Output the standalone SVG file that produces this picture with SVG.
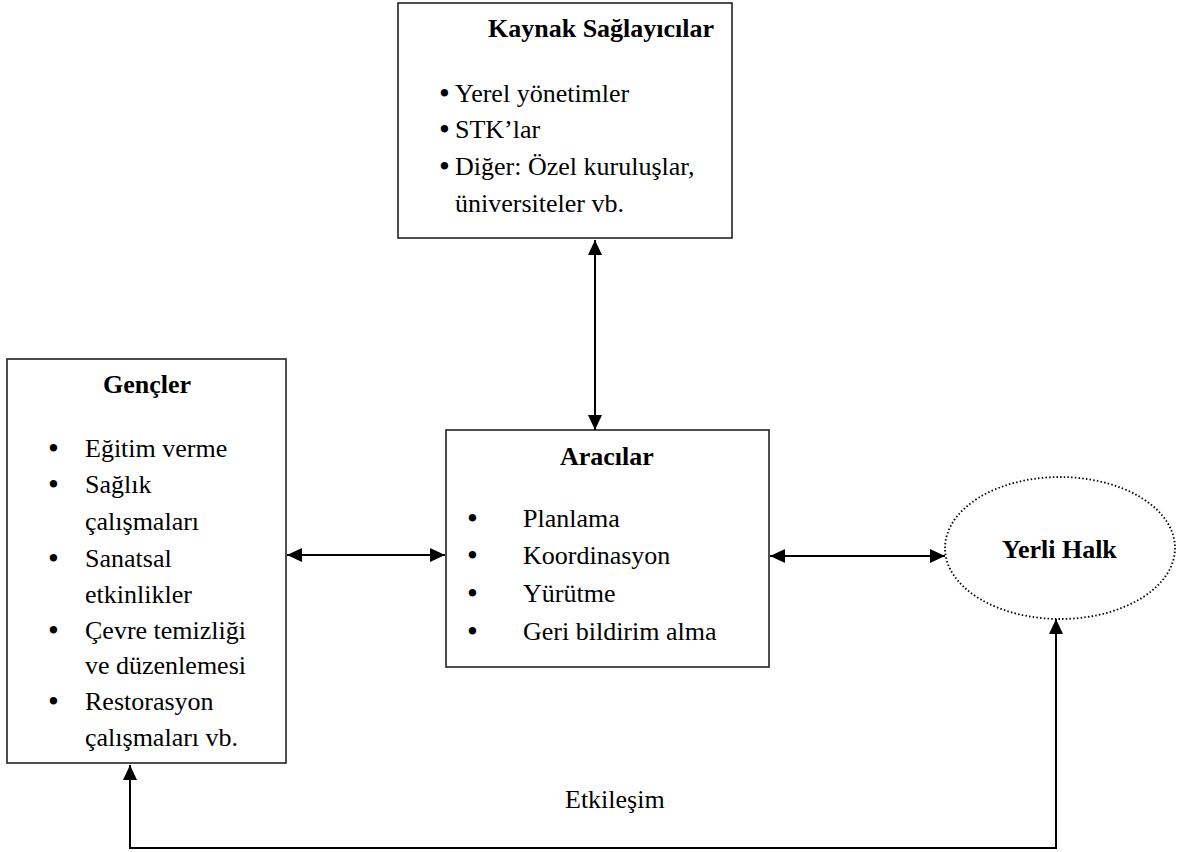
<svg xmlns="http://www.w3.org/2000/svg" width="1184" height="852" viewBox="0 0 1184 852">
<defs>
<marker id="ah" markerUnits="userSpaceOnUse" markerWidth="16" markerHeight="14" refX="15" refY="7" orient="auto-start-reverse" viewBox="0 0 16 14">
<path d="M0,0 L15,7 L0,14 z" fill="#000"/>
</marker>
<style>
.box{fill:#fff;stroke:#222;stroke-width:1.6}
.t{font-family:"Liberation Serif","Times New Roman",serif;font-size:26px;fill:#000}
.b{font-weight:bold}
.dot{font-size:31px}
.c{fill:none;stroke:#000;stroke-width:2}
</style>
</defs>
<rect width="1184" height="852" fill="#fff"/>
<g id="kaynak">
<rect class="box" x="398" y="3" width="334" height="235"/>
<text class="t b" x="488" y="37">Kaynak Sağlayıcılar</text>
<text class="t" y="102"><tspan class="dot" x="439" dy="2">•</tspan><tspan x="455" dy="-2">Yerel yönetimler</tspan></text>
<text class="t" y="138"><tspan class="dot" x="439" dy="2">•</tspan><tspan x="455" dy="-2">STK’lar</tspan></text>
<text class="t" y="175"><tspan class="dot" x="439" dy="2">•</tspan><tspan x="455" dy="-2">Diğer: Özel kuruluşlar,</tspan></text>
<text class="t" x="455" y="212">üniversiteler vb.</text>
</g>
<g id="gencler">
<rect class="box" x="7" y="359" width="279" height="404"/>
<text class="t b" x="103" y="393">Gençler</text>
<text class="t" y="457"><tspan class="dot" x="48" dy="2">•</tspan><tspan x="85" dy="-2">Eğitim verme</tspan></text>
<text class="t" y="493"><tspan class="dot" x="48" dy="2">•</tspan><tspan x="85" dy="-2">Sağlık</tspan></text>
<text class="t" x="85" y="530">çalışmaları</text>
<text class="t" y="567"><tspan class="dot" x="48" dy="2">•</tspan><tspan x="85" dy="-2">Sanatsal</tspan></text>
<text class="t" x="85" y="603">etkinlikler</text>
<text class="t" y="639"><tspan class="dot" x="48" dy="2">•</tspan><tspan x="85" dy="-2">Çevre temizliği</tspan></text>
<text class="t" x="85" y="674">ve düzenlemesi</text>
<text class="t" y="710"><tspan class="dot" x="48" dy="2">•</tspan><tspan x="85" dy="-2">Restorasyon</tspan></text>
<text class="t" x="85" y="746">çalışmaları vb.</text>
</g>
<g id="aracilar">
<rect class="box" x="446" y="430" width="323" height="237"/>
<text class="t b" x="560" y="465">Aracılar</text>
<text class="t" y="527"><tspan class="dot" x="467" dy="2">•</tspan><tspan x="523" dy="-2">Planlama</tspan></text>
<text class="t" y="564"><tspan class="dot" x="467" dy="2">•</tspan><tspan x="523" dy="-2">Koordinasyon</tspan></text>
<text class="t" y="602"><tspan class="dot" x="467" dy="2">•</tspan><tspan x="523" dy="-2">Yürütme</tspan></text>
<text class="t" y="640"><tspan class="dot" x="467" dy="2">•</tspan><tspan x="523" dy="-2">Geri bildirim alma</tspan></text>
</g>
<g id="yerli">
<ellipse cx="1060" cy="548" rx="115" ry="71" fill="#fff" stroke="#000" stroke-width="1.8" stroke-dasharray="1.5 2.2"/>
<text class="t b" x="1002" y="558">Yerli Halk</text>
</g>
<g id="connectors">
<line class="c" x1="287" y1="555" x2="445" y2="555" marker-start="url(#ah)" marker-end="url(#ah)"/>
<line class="c" x1="770" y1="556" x2="945" y2="556" marker-start="url(#ah)" marker-end="url(#ah)"/>
<line class="c" x1="595" y1="240" x2="595" y2="430" marker-start="url(#ah)" marker-end="url(#ah)"/>
<path class="c" d="M130,765 L130,848 L1056,848 L1056,619" marker-start="url(#ah)" marker-end="url(#ah)"/>
<text class="t" x="565" y="808">Etkileşim</text>
</g>
</svg>
